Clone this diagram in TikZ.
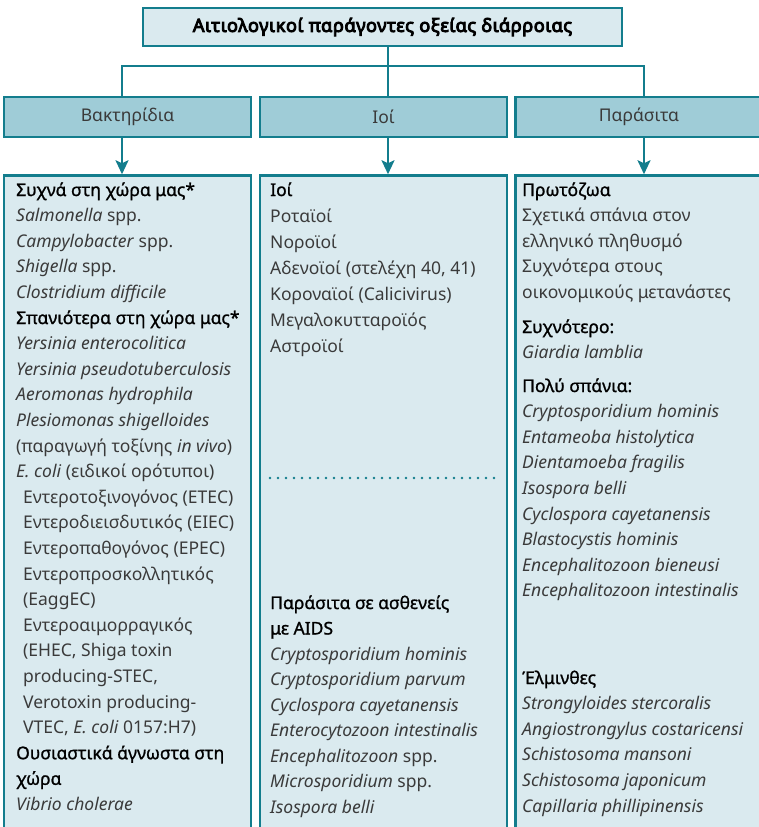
\documentclass[tikz,border=0pt]{standalone}
\usepackage{fontspec}
\setmainfont{Noto Sans}
\newfontfamily\titlefont{Noto Sans}[FakeBold=5, LetterSpace=3]
\newfontfamily\hdfont{Noto Sans}[FakeBold=1.2]
\usetikzlibrary{positioning}
\usetikzlibrary{arrows.meta}

\definecolor{tealline}{HTML}{137D8D}
\definecolor{catfill}{HTML}{9FCCD7}
\definecolor{listfill}{HTML}{DAEAEF}
\definecolor{bodygray}{HTML}{3A3A3A}

\newcommand{\hd}[1]{{\hdfont\color{black}#1}}

\begin{document}
\begin{tikzpicture}[x=1pt, y=-1pt,
    titlebox/.style={draw=tealline, line width=2.5pt, fill=listfill,
        minimum width=479pt, minimum height=38pt, inner sep=0pt,
        font=\fontsize{18.2}{20}\titlefont, text=black},
    catbox/.style={draw=tealline, line width=2.5pt, fill=catfill,
        minimum width=247pt, minimum height=40pt, inner sep=0pt,
        font=\fontsize{17.5}{20}\selectfont, text=bodygray},
    listbox/.style={draw=tealline, line width=2.5pt, fill=listfill,
        minimum width=247pt, minimum height=700pt, inner sep=0pt},
    itemline/.style={anchor=base west, inner sep=0pt,
        font=\fontsize{17.5}{20}\selectfont, text=bodygray},
    link/.style={draw=tealline, line width=2.2pt},
    flow/.style={link, -{Stealth[length=14pt, width=13pt, inset=3pt]}},
    dotline/.style={draw=tealline, line width=2.6pt, line cap=round,
        dash pattern=on 0pt off 8pt}
]

    % page frame
    \useasboundingbox (0,0) rectangle (759,827);
    \clip (0,0) rectangle (759,827);

    % boxes
    \node[titlebox] (title) at (382.5, 27) {Αιτιολογικοί παράγοντες οξείας διάρροιας};
    \node[catbox] (cat2) at (383.5, 117) {Ιοί};
    \node[catbox, left=6.5pt of cat2] (cat1) {Βακτηρίδια};
    \node[catbox, right=6pt of cat2] (cat3) {Παράσιτα};
    \node[listbox, below=36pt of cat1.south, anchor=north] (list1) {};
    \node[listbox, below=36pt of cat2.south, anchor=north] (list2) {};
    \node[listbox, below=36pt of cat3.south, anchor=north] (list3) {};

    % bus and arrows
    \coordinate (bus1) at (122, 66);
    \coordinate (bus2) at (388, 66);
    \coordinate (bus3) at (644, 66);
    \draw[link] (bus2 |- title.south) -- (bus2 |- cat2.north);
    \draw[link] (bus1 |- cat1.north) -- (bus1) -- (bus3) -- (bus3 |- cat3.north);
    \draw[flow] (bus1 |- cat1.south) -- (bus1 |- list1.north);
    \draw[flow] (bus2 |- cat2.south) -- (bus2 |- list2.north);
    \draw[flow] (bus3 |- cat3.south) -- (bus3 |- list3.north);

    % bacteria
    \foreach \txt [count=\i] in {
        {\hd{Συχνά στη χώρα μας*}},
        {\textit{Salmonella} spp.},
        {\textit{Campylobacter} spp.},
        {\textit{Shigella} spp.},
        {\textit{Clostridium difficile}},
        {\hd{Σπανιότερα στη χώρα μας*}},
        {\textit{Yersinia enterocolitica}},
        {\textit{Yersinia pseudotuberculosis}},
        {\textit{Aeromonas hydrophila}},
        {\textit{Plesiomonas shigelloides}},
        {(παραγωγή τοξίνης \textit{in vivo})},
        {\textit{E. coli} (ειδικοί ορότυποι)},
        {\hspace*{7pt}Εντεροτοξινογόνος (ETEC)},
        {\hspace*{7pt}Εντεροδιεισδυτικός (EIEC)},
        {\hspace*{7pt}Εντεροπαθογόνος (EPEC)},
        {\hspace*{7pt}Εντεροπροσκολλητικός},
        {\hspace*{7pt}(EaggEC)},
        {\hspace*{7pt}Εντεροαιμορραγικός},
        {\hspace*{7pt}(EHEC, Shiga toxin},
        {\hspace*{7pt}producing-STEC,},
        {\hspace*{7pt}Verotoxin producing-},
        {\hspace*{7pt}VTEC, \textit{E. coli} 0157:H7)},
        {\hd{Ουσιαστικά άγνωστα στη}},
        {\hd{χώρα}},
        {\textit{Vibrio cholerae}}}
        \node[itemline] (bact\i) at (16, {196+25.6*(\i-1)}) {\txt};

    % viruses
    \foreach \txt [count=\i] in {
        {\hd{Ιοί}},
        Ροταϊοί,
        Νοροϊοί,
        {Αδενοϊοί (στελέχη 40, 41)},
        {Κοροναϊοί (Calicivirus)},
        Μεγαλοκυτταροϊός,
        Αστροϊοί}
        \node[itemline] (vir\i) at (270, {196+26*(\i-1)}) {\txt};

    \draw[dotline] (270, 478) -- (496, 478);

    % parasites in AIDS
    \foreach \txt [count=\i] in {
        {\hd{Παράσιτα σε ασθενείς}},
        {\hd{με AIDS}},
        {\textit{Cryptosporidium hominis}},
        {\textit{Cryptosporidium parvum}},
        {\textit{Cyclospora cayetanensis}},
        {\textit{Enterocytozoon intestinalis}},
        {\textit{Encephalitozoon} spp.},
        {\textit{Microsporidium} spp.},
        {\textit{Isospora belli}}}
        \node[itemline] (aids\i) at (270, {609+25.5*(\i-1)}) {\txt};

    % parasites
    \foreach \yy/\txt [count=\i] in {
        196/{\hd{Πρωτόζωα}},
        221.6/{Σχετικά σπάνια στον},
        247.2/{ελληνικό πληθυσμό},
        272.8/{Συχνότερα στους},
        298.4/{οικονομικούς μετανάστες},
        333/{\hd{Συχνότερο:}},
        358.6/{\textit{Giardia lamblia}},
        392/{\hd{Πολύ σπάνια:}},
        417.6/{\textit{Cryptosporidium hominis}},
        443.2/{\textit{Entameoba histolytica}},
        468.8/{\textit{Dientamoeba fragilis}},
        494.4/{\textit{Isospora belli}},
        520/{\textit{Cyclospora cayetanensis}},
        545.6/{\textit{Blastocystis hominis}},
        571.2/{\textit{Encephalitozoon bieneusi}},
        596.8/{\textit{Encephalitozoon intestinalis}},
        684/{\hd{Έλμινθες}},
        709.6/{\textit{Strongyloides stercoralis}},
        735.2/{\textit{Angiostrongylus costaricensi}},
        760.8/{\textit{Schistosoma mansoni}},
        786.4/{\textit{Schistosoma japonicum}},
        812/{\textit{Capillaria phillipinensis}}}
        \node[itemline] (par\i) at (522, \yy) {\txt};

\end{tikzpicture}
\end{document}
